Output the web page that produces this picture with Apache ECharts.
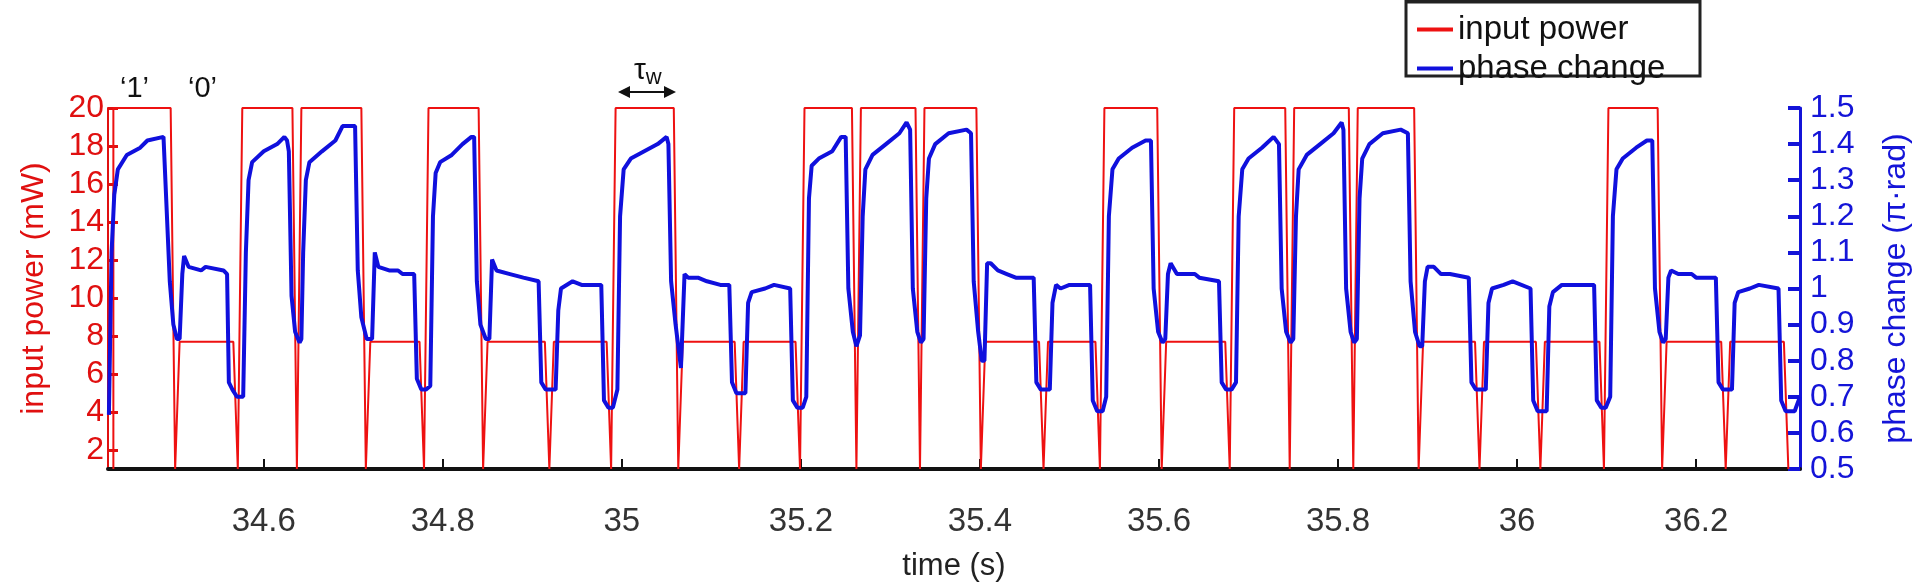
<!DOCTYPE html>
<html>
<head>
<meta charset="utf-8">
<script src="https://cdn.jsdelivr.net/npm/echarts@6/dist/echarts.min.js"></script>
<style>
  html, body {margin: 0; padding: 0; background: #fff;}
  #chart {width: 1920px; height: 587px;}
</style>
</head>
<body>
<div id="chart"></div>
<script>
// symbol start times (s) and bits
const symbolStarts = [34.432, 34.506, 34.576, 34.642, 34.719, 34.784, 34.850, 34.924, 34.993, 35.068,
    35.136, 35.204, 35.267, 35.338, 35.406, 35.476, 35.539, 35.608, 35.684, 35.751,
    35.822, 35.895, 35.963, 36.031, 36.102, 36.167, 36.238]
const lastEnd = 36.298
const bits = [1, 0, 1, 1, 0, 1, 0, 0, 1, 0, 0, 1, 1, 1, 0, 0, 1, 0, 1, 1, 1, 0, 0, 0, 1, 0, 0]
const powerLevels = {1: 20, 0: 7.7}
const powerFloor = 1

// phase change trace [time, phase (π·rad)]
const phase = [
    [34.427, 0.65], [34.430, 1.10], [34.433, 1.26], [34.437, 1.33], [34.447, 1.37], [34.462, 1.39], [34.470, 1.41], [34.488, 1.42],
    [34.490, 1.42], [34.495, 1.02], [34.499, 0.90], [34.503, 0.86], [34.506, 0.86],
    [34.509, 1.04], [34.511, 1.09], [34.516, 1.06], [34.530, 1.05], [34.535, 1.06], [34.555, 1.05], [34.559, 1.04], [34.561, 0.74], [34.565, 0.72], [34.570, 0.70],
    [34.577, 0.70], [34.580, 1.10], [34.583, 1.30], [34.587, 1.35], [34.600, 1.38], [34.615, 1.40], [34.623, 1.42], [34.626, 1.41], [34.628, 1.38], [34.631, 0.98], [34.635, 0.88], [34.640, 0.85], [34.642, 0.86],
    [34.644, 1.10], [34.647, 1.30], [34.651, 1.35], [34.665, 1.38], [34.680, 1.41], [34.688, 1.45], [34.702, 1.45], [34.705, 1.05], [34.709, 0.92], [34.715, 0.86],
    [34.721, 0.86], [34.724, 1.10], [34.728, 1.06], [34.740, 1.05], [34.750, 1.05], [34.755, 1.04], [34.768, 1.04], [34.771, 0.75], [34.776, 0.72], [34.781, 0.72],
    [34.786, 0.73], [34.789, 1.20], [34.792, 1.32], [34.797, 1.35], [34.810, 1.37], [34.822, 1.40], [34.832, 1.42], [34.835, 1.42], [34.838, 1.02], [34.842, 0.90], [34.848, 0.86],
    [34.852, 0.86], [34.855, 1.08], [34.860, 1.05], [34.875, 1.04], [34.890, 1.03], [34.907, 1.02], [34.910, 0.74], [34.915, 0.72], [34.920, 0.72],
    [34.926, 0.72], [34.929, 0.94], [34.932, 1.00], [34.945, 1.02], [34.955, 1.01], [34.977, 1.01], [34.980, 0.69], [34.985, 0.67], [34.990, 0.67],
    [34.995, 0.72], [34.998, 1.20], [35.002, 1.33], [35.010, 1.36], [35.025, 1.38], [35.040, 1.40], [35.050, 1.42], [35.052, 1.40], [35.055, 1.02], [35.060, 0.90], [35.064, 0.82], [35.066, 0.78],
    [35.070, 1.04], [35.074, 1.03], [35.085, 1.03], [35.095, 1.02], [35.110, 1.01], [35.120, 1.01], [35.123, 0.74], [35.128, 0.71], [35.133, 0.71],
    [35.138, 0.71], [35.141, 0.96], [35.145, 0.99], [35.160, 1.00], [35.170, 1.01], [35.188, 1.00], [35.191, 0.69], [35.196, 0.67], [35.202, 0.67],
    [35.206, 0.70], [35.209, 1.25], [35.212, 1.34], [35.220, 1.36], [35.235, 1.38], [35.245, 1.42], [35.250, 1.42], [35.253, 1.00], [35.258, 0.88], [35.262, 0.84], [35.266, 0.87],
    [35.269, 1.20], [35.272, 1.33], [35.280, 1.37], [35.295, 1.40], [35.310, 1.43], [35.318, 1.46], [35.322, 1.44], [35.325, 1.00], [35.330, 0.88], [35.334, 0.85], [35.337, 0.86],
    [35.340, 1.25], [35.343, 1.36], [35.350, 1.40], [35.365, 1.43], [35.385, 1.44], [35.390, 1.43], [35.393, 1.02], [35.398, 0.88], [35.402, 0.80], [35.405, 0.80],
    [35.408, 1.07], [35.412, 1.07], [35.420, 1.05], [35.430, 1.04], [35.440, 1.03], [35.460, 1.03], [35.463, 0.74], [35.468, 0.72], [35.473, 0.72],
    [35.478, 0.72], [35.481, 0.96], [35.485, 1.01], [35.490, 1.00], [35.500, 1.01], [35.523, 1.01], [35.526, 0.69], [35.531, 0.66], [35.537, 0.66],
    [35.541, 0.70], [35.544, 1.20], [35.548, 1.33], [35.555, 1.36], [35.570, 1.39], [35.585, 1.41], [35.591, 1.41], [35.594, 1.00], [35.599, 0.88], [35.604, 0.85], [35.607, 0.86],
    [35.610, 1.04], [35.613, 1.07], [35.620, 1.04], [35.640, 1.04], [35.645, 1.03], [35.667, 1.02], [35.670, 0.74], [35.675, 0.72], [35.681, 0.72],
    [35.686, 0.74], [35.689, 1.20], [35.693, 1.33], [35.700, 1.36], [35.715, 1.39], [35.728, 1.42], [35.734, 1.40], [35.737, 1.00], [35.742, 0.88], [35.747, 0.85], [35.750, 0.86],
    [35.753, 1.20], [35.756, 1.33], [35.765, 1.37], [35.780, 1.40], [35.795, 1.43], [35.804, 1.46], [35.806, 1.44], [35.809, 1.00], [35.814, 0.88], [35.818, 0.85], [35.821, 0.86],
    [35.824, 1.25], [35.827, 1.36], [35.835, 1.40], [35.850, 1.43], [35.870, 1.44], [35.878, 1.43], [35.881, 1.02], [35.886, 0.88], [35.891, 0.84], [35.894, 0.84],
    [35.897, 1.02], [35.900, 1.06], [35.907, 1.06], [35.915, 1.04], [35.925, 1.04], [35.946, 1.03], [35.949, 0.74], [35.954, 0.72], [35.960, 0.72],
    [35.965, 0.72], [35.968, 0.96], [35.972, 1.00], [35.985, 1.01], [35.995, 1.02], [36.015, 1.00], [36.018, 0.69], [36.023, 0.66], [36.028, 0.66],
    [36.033, 0.66], [36.036, 0.95], [36.040, 0.99], [36.050, 1.01], [36.060, 1.01], [36.086, 1.01], [36.089, 0.69], [36.094, 0.67], [36.099, 0.67],
    [36.104, 0.70], [36.107, 1.20], [36.111, 1.33], [36.118, 1.36], [36.133, 1.39], [36.145, 1.41], [36.151, 1.41], [36.154, 1.00], [36.159, 0.88], [36.163, 0.85], [36.166, 0.86],
    [36.169, 1.03], [36.172, 1.05], [36.180, 1.04], [36.195, 1.04], [36.200, 1.03], [36.222, 1.03], [36.225, 0.74], [36.230, 0.72], [36.235, 0.72],
    [36.240, 0.72], [36.243, 0.96], [36.247, 0.99], [36.260, 1.00], [36.270, 1.01], [36.292, 1.00], [36.295, 0.69], [36.300, 0.66], [36.310, 0.66], [36.316, 0.70]
]

const xTicks = [34.6, 34.8, 35, 35.2, 35.4, 35.6, 35.8, 36, 36.2]
const powerTicks = [2, 4, 6, 8, 10, 12, 14, 16, 18, 20]

// return-to-zero power trace built from the symbols
const power = []
const dip = 0.010
symbolStarts.forEach((s, i) => {
    const end = i < symbolStarts.length - 1 ? symbolStarts[i + 1] - dip : lastEnd
    const level = powerLevels[bits[i]]
    if (i === 0) power.push([s, powerFloor])
    power.push([s, level], [end, level], [end + dip / 2, powerFloor])
})

const font = 'Liberation Sans'
const chart = echarts.init(document.getElementById('chart'))

chart.setOption({
    animation: false,
    grid: {left: 108, right: 111, top: 108, bottom: 113},
    legend: {
        orient: 'vertical',
        left: 1412,
        top: 8,
        itemGap: 6,
        itemWidth: 36,
        itemHeight: 4,
        icon: 'rect',
        textStyle: {fontFamily: font, fontSize: 33, color: '#111'},
        data: ['input power', 'phase change']
    },
    xAxis: {
        type: 'value',
        min: 34.426,
        max: 36.316,
        name: 'time (s)',
        nameLocation: 'middle',
        nameGap: 82,
        nameTextStyle: {fontFamily: font, fontSize: 31, color: '#222'},
        axisLine: {lineStyle: {color: '#111', width: 4}},
        axisTick: {inside: true, length: 10, customValues: xTicks, lineStyle: {color: '#111', width: 2}},
        axisLabel: {customValues: xTicks, fontFamily: font, fontSize: 33, color: '#333', margin: 36},
        splitLine: {show: false}
    },
    yAxis: [
        {
            type: 'value',
            min: 1,
            max: 20,
            name: 'input power (mW)',
            nameLocation: 'middle',
            nameGap: 58,
            nameTextStyle: {fontFamily: font, fontSize: 32, color: '#e01010'},
            axisLine: {show: true, lineStyle: {color: '#e01010', width: 2}},
            axisTick: {inside: true, length: 10, customValues: powerTicks, lineStyle: {color: '#e01010', width: 3}},
            axisLabel: {customValues: powerTicks, fontFamily: font, fontSize: 32, color: '#e01010', margin: 4},
            splitLine: {show: false}
        },
        {
            type: 'value',
            min: 0.5,
            max: 1.5,
            interval: 0.1,
            name: 'phase change (π·rad)',
            nameLocation: 'middle',
            nameGap: 80,
            nameRotate: 90,
            nameTextStyle: {fontFamily: font, fontSize: 32, color: '#1414d8'},
            axisLine: {show: true, lineStyle: {color: '#1414d8', width: 3}},
            axisTick: {inside: true, length: 12, lineStyle: {color: '#1414d8', width: 4}},
            axisLabel: {fontFamily: font, fontSize: 32, color: '#1414d8', margin: 10},
            splitLine: {show: false}
        }
    ],
    series: [
        {
            name: 'input power',
            type: 'line',
            yAxisIndex: 0,
            data: power,
            showSymbol: false,
            itemStyle: {color: '#ee1111'},
            lineStyle: {color: '#ee1111', width: 2}
        },
        {
            name: 'phase change',
            type: 'line',
            yAxisIndex: 1,
            data: phase,
            showSymbol: false,
            itemStyle: {color: '#1010dd'},
            lineStyle: {color: '#1010dd', width: 4}
        }
    ],
    graphic: [
        {type: 'rect', shape: {x: 1406, y: -2, width: 294, height: 78}, style: {fill: 'none', stroke: '#222', lineWidth: 3}},
        {type: 'line', shape: {x1: 1406, y1: 1, x2: 1700, y2: 1}, style: {stroke: '#222', lineWidth: 5}},
        {type: 'text', left: 120, top: 74, style: {text: '‘1’', fontFamily: font, fontSize: 29, fill: '#111'}},
        {type: 'text', left: 188, top: 74, style: {text: '‘0’', fontFamily: font, fontSize: 29, fill: '#111'}},
        {
            type: 'text', left: 634, top: 56,
            style: {
                text: 'τ{s|w}', fontFamily: font, fontSize: 30, fill: '#111',
                rich: {s: {fontFamily: font, fontSize: 22, fill: '#111', padding: [14, 0, 0, 0]}}
            }
        },
        {type: 'line', shape: {x1: 622, y1: 92, x2: 672, y2: 92}, style: {stroke: '#111', lineWidth: 2}},
        {type: 'polygon', shape: {points: [[618, 92], [630, 86], [630, 98]]}, style: {fill: '#111'}},
        {type: 'polygon', shape: {points: [[676, 92], [664, 86], [664, 98]]}, style: {fill: '#111'}}
    ]
})
</script>
</body>
</html>
